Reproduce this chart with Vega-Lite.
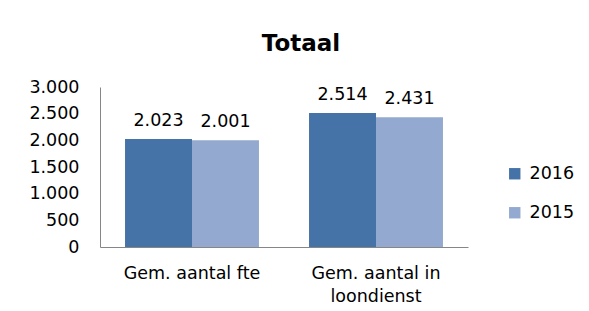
{
  "$schema": "https://vega.github.io/schema/vega-lite/v6.json",
  "width": 368,
  "height": 160,
  "autosize": {"type": "none"},
  "padding": {"left": 100, "top": 87, "right": 121, "bottom": 64},
  "background": "white",
  "title": {
    "text": "Totaal",
    "font": "DejaVu Sans",
    "fontSize": 23,
    "fontWeight": "bold",
    "color": "#000000",
    "anchor": "middle",
    "dx": 17,
    "offset": 22
  },
  "data": {
    "values": [
      {"categorie": "Gem. aantal fte", "jaar": "2016", "waarde": 2023},
      {"categorie": "Gem. aantal fte", "jaar": "2015", "waarde": 2001},
      {"categorie": "Gem. aantal in loondienst", "jaar": "2016", "waarde": 2514},
      {"categorie": "Gem. aantal in loondienst", "jaar": "2015", "waarde": 2431}
    ]
  },
  "encoding": {
    "x": {
      "field": "categorie",
      "type": "nominal",
      "sort": null,
      "scale": {"paddingInner": 0.272, "paddingOuter": 0.136},
      "axis": {
        "title": null,
        "labelAngle": 0,
        "ticks": false,
        "domainColor": "#868686",
        "labelFont": "DejaVu Sans",
        "labelFontSize": 17.5,
        "labelColor": "#000000",
        "labelPadding": 17,
        "labelLineHeight": 23,
        "labelExpr": "datum.value == 'Gem. aantal in loondienst' ? ['Gem. aantal in', 'loondienst'] : datum.value"
      }
    },
    "xOffset": {
      "field": "jaar",
      "type": "nominal",
      "sort": ["2016", "2015"],
      "scale": {"paddingInner": 0, "paddingOuter": 0}
    },
    "y": {
      "field": "waarde",
      "type": "quantitative",
      "scale": {"domain": [0, 3000], "nice": false},
      "axis": {
        "title": null,
        "values": [0, 500, 1000, 1500, 2000, 2500, 3000],
        "format": ",d",
        "grid": false,
        "ticks": false,
        "domainColor": "#868686",
        "labelFont": "DejaVu Sans",
        "labelFontSize": 17.5,
        "labelColor": "#000000",
        "labelPadding": 21
      }
    }
  },
  "layer": [
    {
      "mark": {"type": "bar"},
      "encoding": {
        "color": {
          "field": "jaar",
          "type": "nominal",
          "sort": ["2016", "2015"],
          "scale": {"domain": ["2016", "2015"], "range": ["#4572A7", "#93A9CF"]},
          "legend": {
            "title": null,
            "orient": "none",
            "legendX": 406,
            "legendY": 78,
            "symbolType": "square",
            "symbolSize": 130,
            "symbolStrokeWidth": 0,
            "labelFont": "DejaVu Sans",
            "labelFontSize": 17.5,
            "labelColor": "#000000",
            "labelOffset": 6,
            "rowPadding": 20
          }
        }
      }
    },
    {
      "mark": {
        "type": "text",
        "font": "DejaVu Sans",
        "fontSize": 17.5,
        "color": "#000000",
        "baseline": "alphabetic",
        "dy": -13
      },
      "encoding": {
        "text": {"field": "waarde", "type": "quantitative", "format": ",d"}
      }
    }
  ],
  "config": {
    "view": {"stroke": null},
    "locale": {
      "number": {
        "decimal": ",",
        "thousands": ".",
        "grouping": [3],
        "currency": ["€", ""]
      }
    }
  }
}
